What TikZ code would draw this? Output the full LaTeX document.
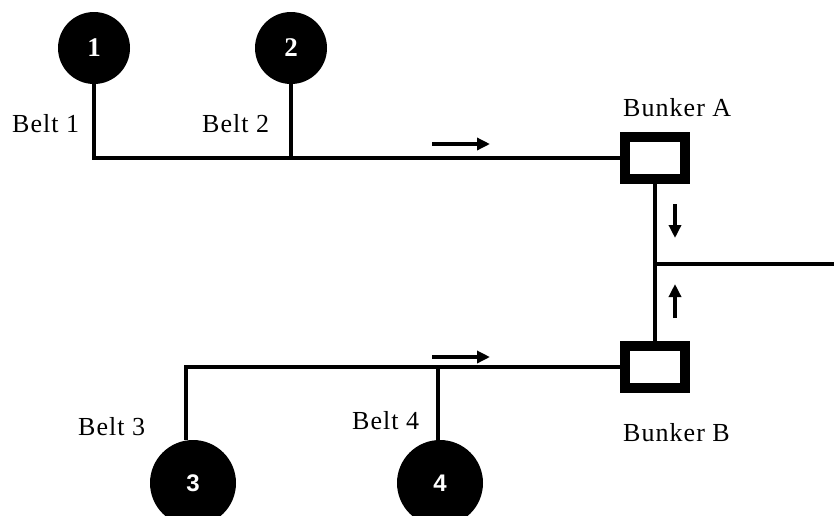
\documentclass[tikz,border=0pt]{standalone}
\usepackage{fontspec}
\setmainfont{Liberation Serif}
\newfontfamily\numsans{Liberation Sans}
\usetikzlibrary{arrows.meta}
\begin{document}
\begin{tikzpicture}[x=1pt,y=-1pt,
  belt/.style={line width=4pt},
  source/.style={circle,fill=black,text=white,inner sep=0pt,font=\fontsize{27}{27}\selectfont\bfseries},
  bunker/.style={draw,line width=10pt,rectangle,minimum width=60pt,minimum height=42pt,inner sep=0pt},
  label/.style={anchor=base west,inner sep=0pt,font=\fontsize{26}{26}\selectfont\addfontfeature{LetterSpace=4}},
  flow/.style={line width=3.5pt,-{Triangle[length=13pt,width=12pt]}}]
\useasboundingbox (0,0) rectangle (834,515);

% belt sources
\node[source,minimum size=72pt] (c1) at (94,48) {1};
\node[source,minimum size=72pt] (c2) at (291,48) {2};
\node[source,minimum size=86pt,font=\numsans\fontsize{24}{24}\selectfont\bfseries] (c3) at (193,483) {3};
\node[source,minimum size=86pt,font=\numsans\fontsize{24}{24}\selectfont\bfseries] (c4) at (440,483) {4};

% bunkers
\node[bunker] (bA) at (655,158) {};
\node[bunker] (bB) at (655,367) {};

% belts into the bunkers
\draw[belt] (c1.south) |- (bA.west);
\draw[belt] (c2.south) -- (c2.south |- bA.west);
\draw[belt] (c3.100) |- (bB.west);
\draw[belt] (c4.93) -- (c4.93 |- bB.west);

% discharge belt
\coordinate (join) at (655,264);
\coordinate (outlet) at (834,264);
\draw[belt] (bA.south) -- (bB.north);
\draw[belt] (join) -- (outlet);

% flow directions
\coordinate (a1s) at (432,144); \coordinate (a1e) at (490,144);
\coordinate (a2s) at (432,357); \coordinate (a2e) at (490,357);
\coordinate (a3s) at (675,204); \coordinate (a3e) at (675,238);
\coordinate (a4s) at (675,318); \coordinate (a4e) at (675,284);
\draw[flow] (a1s) -- (a1e);
\draw[flow] (a2s) -- (a2e);
\draw[flow] (a3s) -- (a3e);
\draw[flow] (a4s) -- (a4e);

% labels
\node[label] (l1) at (12,132) {Belt 1};
\node[label] (l2) at (202,132) {Belt 2};
\node[label] (l3) at (78,435) {Belt 3};
\node[label] (l4) at (352,429) {Belt 4};
\node[label] (lA) at (623,116) {Bunker A};
\node[label] (lB) at (623,441) {Bunker B};
\end{tikzpicture}
\end{document}
